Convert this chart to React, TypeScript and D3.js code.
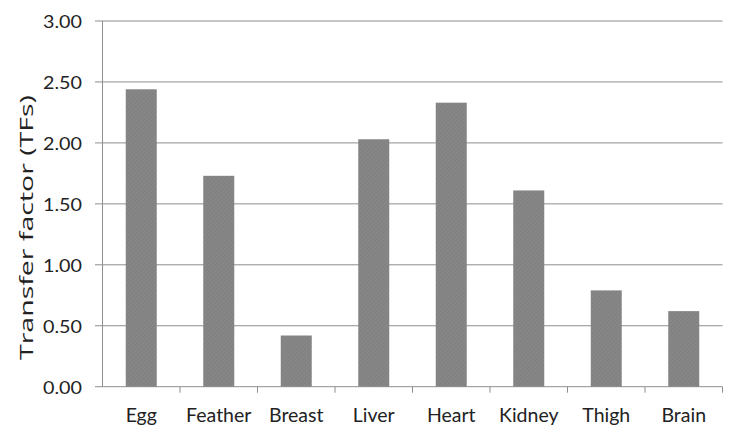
import React from "react";
import * as d3 from "d3";

const categories = ["Egg", "Feather", "Breast", "Liver", "Heart", "Kidney", "Thigh", "Brain"];
const values = [2.44, 1.73, 0.42, 2.03, 2.33, 1.61, 0.79, 0.62];
const yTicks = [0, 0.5, 1, 1.5, 2, 2.5, 3];
const yLabel = "Transfer factor (TFs)";

export default function App() {
  const W = 738, H = 439;
  const left = 102.5, right = 722.5, top = 21, bottom = 386.7;
  const x = d3.scaleBand<string>().domain(categories).range([left, right]).paddingInner(0.6).paddingOuter(0.3);
  const xb = d3.scaleBand<string>().domain(categories).range([left, right]);
  const y = d3.scaleLinear().domain([0, 3]).range([bottom, top]);
  const font = "Lato, 'Open Sans', sans-serif";
  const gridColor = "#8e8e8e";
  return (
    <svg width={W} height={H} style={{ position: "absolute", left: 0, top: 0 }}>
      <defs>
        <pattern id="hatch" width="3" height="3" patternUnits="userSpaceOnUse" patternTransform="rotate(45)">
          <rect width="3" height="3" fill="#878787" />
          <line x1="0" y1="0" x2="0" y2="3" stroke="#777" strokeWidth="1" />
        </pattern>
      </defs>
      <rect width={W} height={H} fill="#fff" />
      {yTicks.map((t) => (
        <g key={t}>
          <line x1={95} x2={right} y1={y(t)} y2={y(t)} stroke={gridColor} strokeWidth={1} />
          <text x={82} y={y(t) + 7} textAnchor="end" fontFamily={font} fontSize={17} fill="#222"
            textLength={39} lengthAdjust="spacingAndGlyphs">
            {d3.format(".2f")(t)}
          </text>
        </g>
      ))}
      <line x1={left} x2={left} y1={top} y2={bottom} stroke={gridColor} strokeWidth={1} />
      {categories.map((c) => (
        <line key={"t" + c} x1={xb(c)! + xb.bandwidth()} x2={xb(c)! + xb.bandwidth()} y1={bottom} y2={bottom + 6} stroke={gridColor} strokeWidth={1} />
      ))}
      {categories.map((c, i) => (
        <rect key={c} x={x(c)} y={y(values[i])} width={x.bandwidth()} height={bottom - y(values[i])} fill="url(#hatch)" />
      ))}
      {categories.map((c) => (
        <text key={"l" + c} x={xb(c)! + xb.bandwidth() / 2} y={421.5} textAnchor="middle" fontFamily={font} fontSize={19.5} fill="#222">
          {c}
        </text>
      ))}
      <text transform={`translate(33.3,227.5) rotate(-90)`} textAnchor="middle" fontFamily="'Open Sans', sans-serif" fontSize={19} fill="#222"
        textLength={265} lengthAdjust="spacingAndGlyphs">
        {yLabel}
      </text>
    </svg>
  );
}
